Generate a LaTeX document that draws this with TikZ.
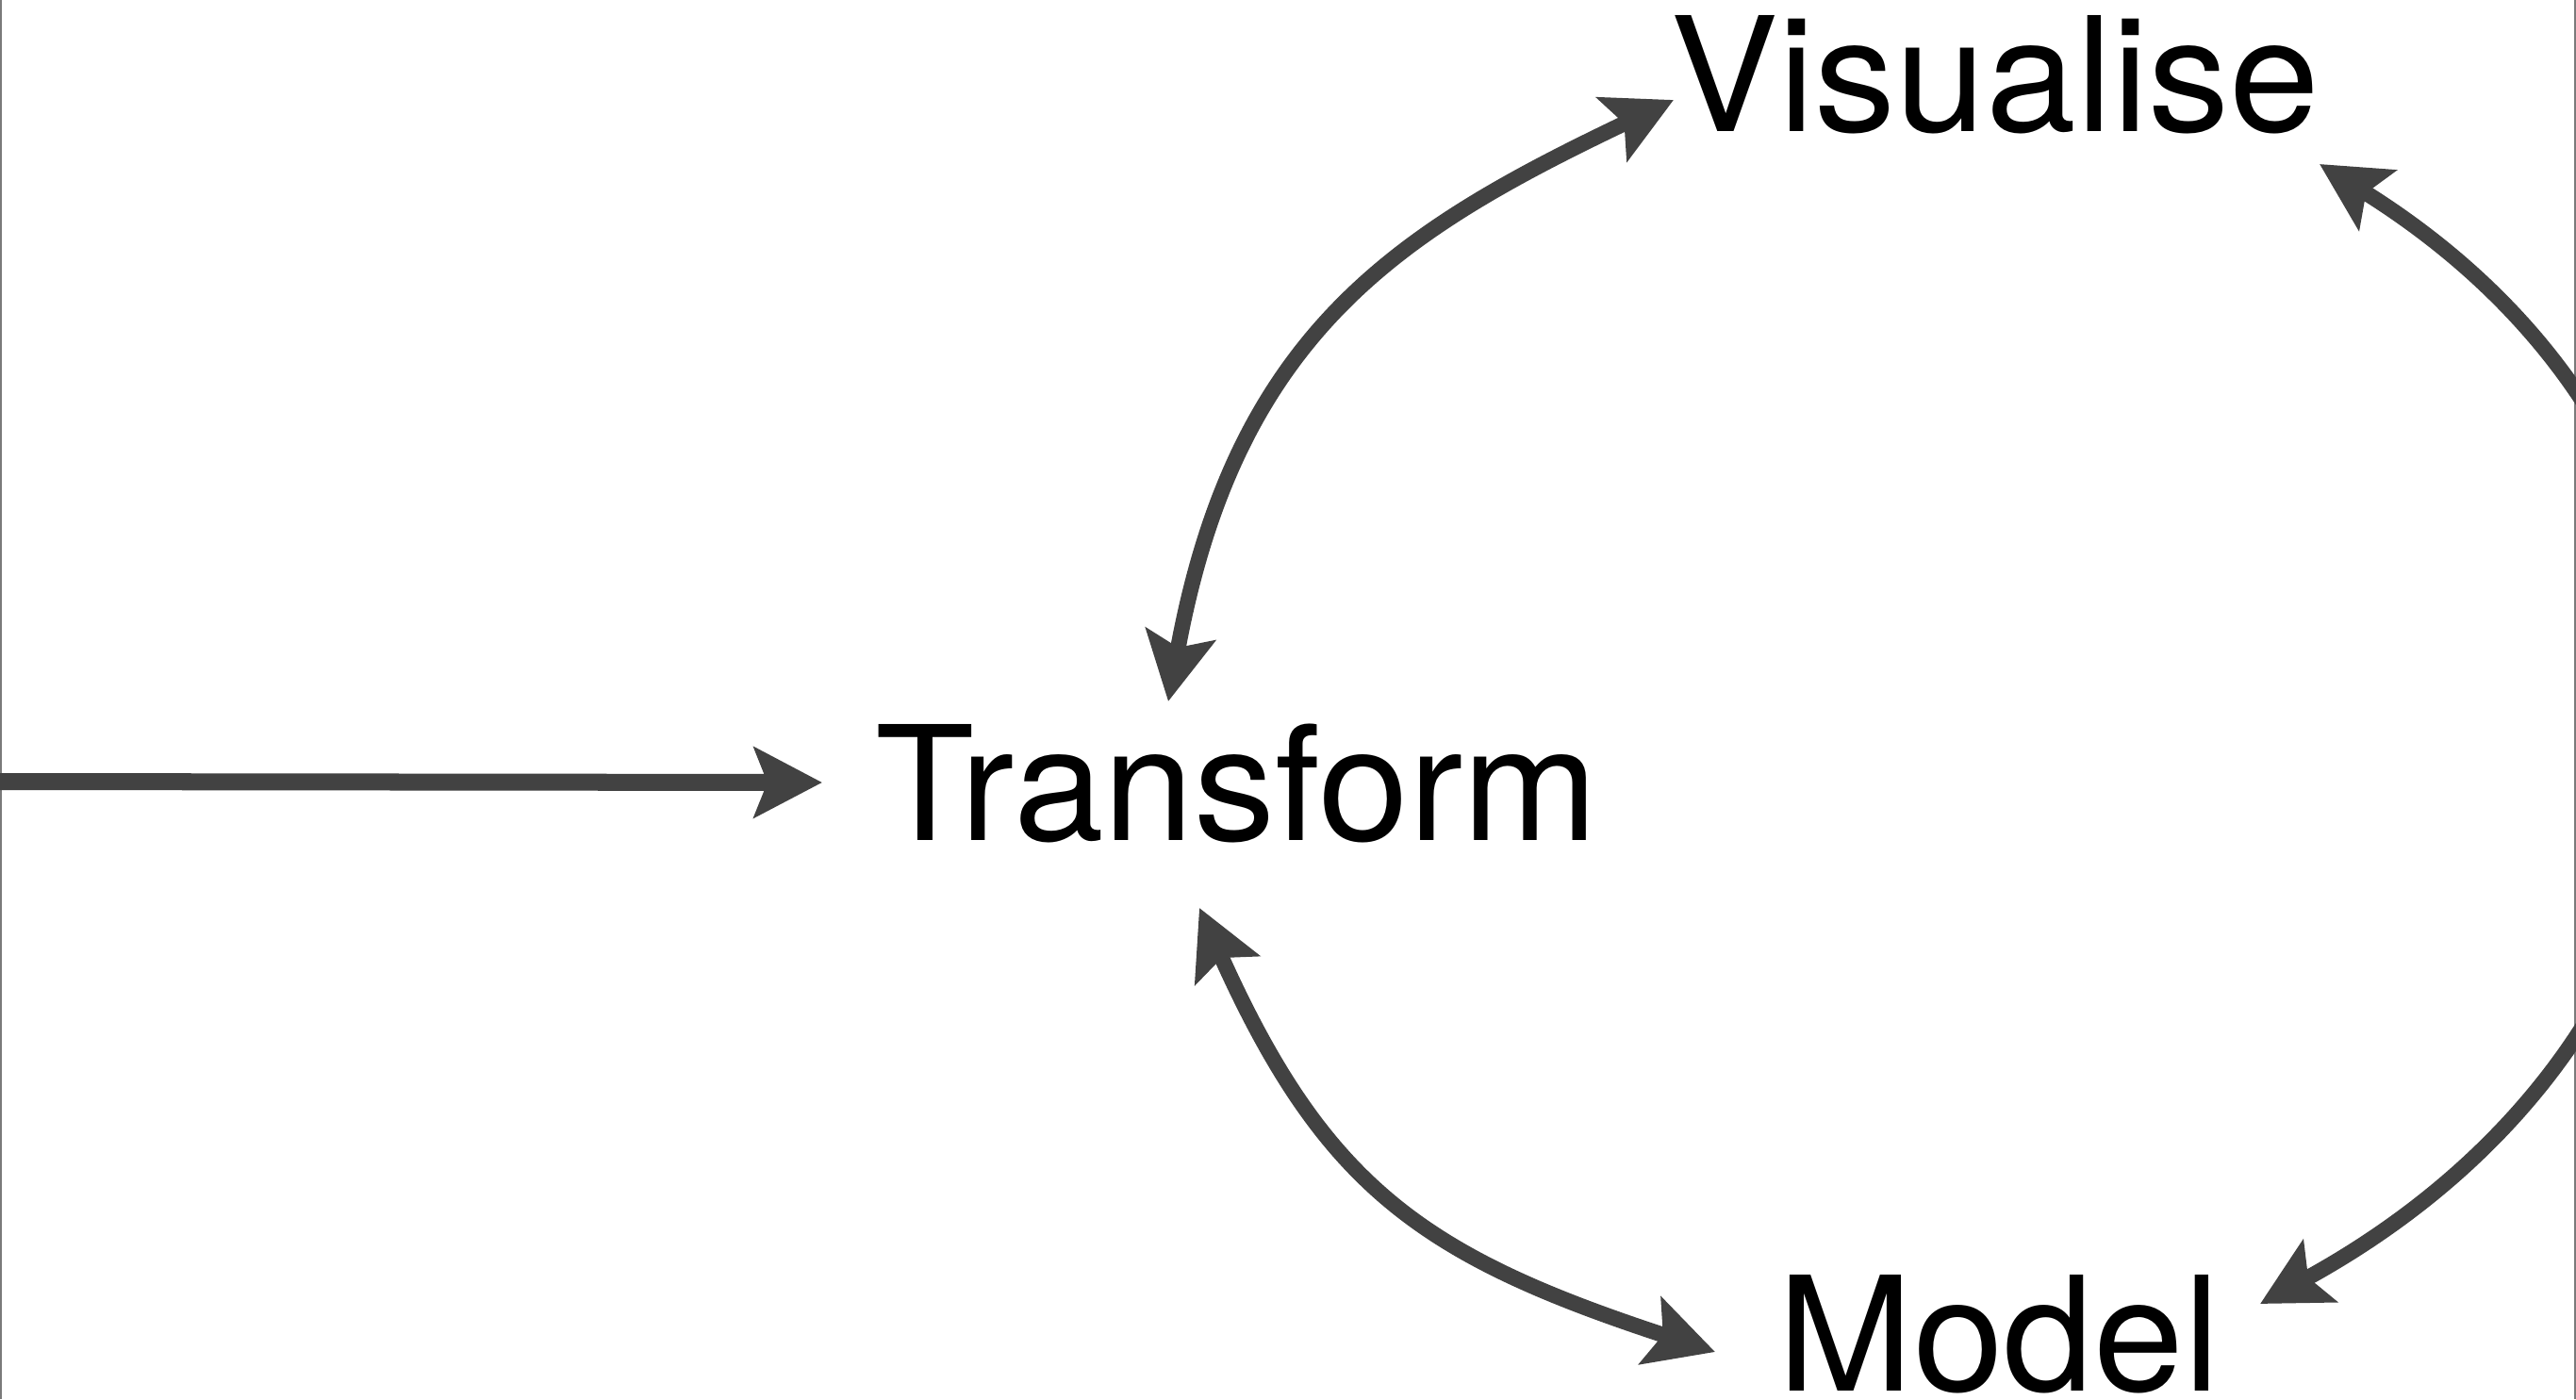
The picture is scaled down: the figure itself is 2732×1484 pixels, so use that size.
\documentclass[tikz,border=0pt]{standalone}
\usepackage{fontspec}
\setmainfont{TeX Gyre Heros}[FakeStretch=1.02]
\usetikzlibrary{arrows.meta}
\definecolor{arrgray}{HTML}{424242}
\definecolor{edgegray}{HTML}{7A7A7A}
\begin{document}
\begin{tikzpicture}[x=0.01cm,y=-0.01cm,
  >={Stealth[length=7.2mm,width=7.4mm,inset=1.4mm]},
  lbl/.style={inner sep=0pt, outer sep=0pt, anchor=base, text depth=0pt, font=\fontsize{48}{58}\selectfont, text=black},
  conn/.style={draw=arrgray, line width=1.65mm},
  frameline/.style={draw=edgegray, line width=0.2mm}]
\path[use as bounding box] (0,0) rectangle (2732,1484);
\clip (0,0) rectangle (2732,1484);
\fill[white] (0,0) rectangle (2732,1484);
\draw[frameline] (1,0) -- (1,1484);
\draw[frameline] (2730.5,0) -- (2730.5,1484);

\node[lbl] (T) at (1312,891) {Transform};
\node[lbl] (V) at (2116,139) {Visualise};
\node[lbl] (M) at (2120,1475) {Model};

\coordinate (inS) at (-10,829);
\coordinate (inT) at (872,830);
\coordinate (tvA) at (1239,744);
\coordinate (tvB) at (1775,106);
\coordinate (vmA) at (2460,174);
\coordinate (vmB) at (2397,1383);
\coordinate (tmA) at (1272,963);
\coordinate (tmB) at (1819,1434);

\draw[conn,line width=1.8mm,->] (inS) -- (inT);
\draw[conn,<->] (tvA) .. controls (1310.5,353.5) and (1482.5,245.5) .. (tvB);
\draw[conn,<->] (vmA) .. controls (2978,497) and (2941,1085) .. (vmB);
\draw[conn,<->] (tmA) .. controls (1405,1260) and (1511,1333) .. (tmB);
\end{tikzpicture}
\end{document}
